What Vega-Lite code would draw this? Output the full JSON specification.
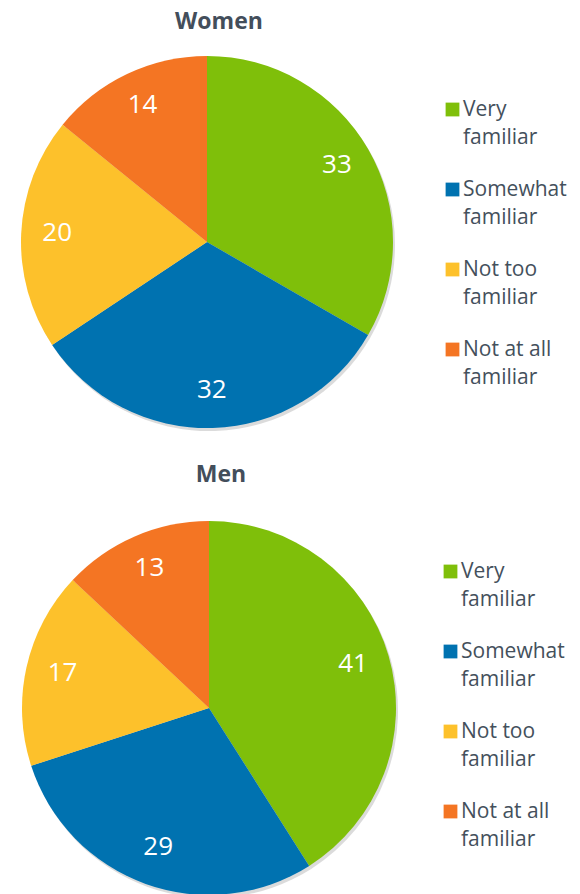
{
  "$schema": "https://vega.github.io/schema/vega-lite/v6.json",
  "background": "white",
  "padding": {"left": 21, "top": 11, "right": 0, "bottom": 0},
  "spacing": 33,
  "datasets": {
    "pies": [
      {"gender": "Women", "response": "Very familiar", "value": 33},
      {"gender": "Women", "response": "Somewhat familiar", "value": 32},
      {"gender": "Women", "response": "Not too familiar", "value": 20},
      {"gender": "Women", "response": "Not at all familiar", "value": 14},
      {"gender": "Men", "response": "Very familiar", "value": 41},
      {"gender": "Men", "response": "Somewhat familiar", "value": 29},
      {"gender": "Men", "response": "Not too familiar", "value": 17},
      {"gender": "Men", "response": "Not at all familiar", "value": 13}
    ]
  },
  "config": {
    "view": {"stroke": null},
    "title": {"font": "Open Sans", "fontSize": 23, "fontWeight": "bold", "color": "#434e5b", "anchor": "middle", "dx": 12},
    "legend": {
      "title": null,
      "symbolType": "square",
      "symbolSize": 190,
      "symbolStrokeWidth": 0,
      "symbolOpacity": 1,
      "labelFont": "Open Sans",
      "labelFontSize": 21,
      "labelColor": "#44505c",
      "labelOffset": 0,
      "labelLimit": 200,
      "rowPadding": 30
    }
  },
  "resolve": {"legend": {"color": "independent"}},
  "vconcat": [
    {
      "title": {"text": "Women", "offset": 22},
      "width": 372,
      "height": 372,
      "data": {"name": "pies"},
      "transform": [{"filter": "datum.gender === 'Women'"}],
      "encoding": {
        "theta": {"field": "value", "type": "quantitative", "stack": true},
        "order": {"field": "response", "sort": "descending"}
      },
      "layer": [
        {"mark": {"type": "arc", "color": "#b0b0b0", "opacity": 0.45, "xOffset": 2, "yOffset": 3}, "encoding": {"detail": {"field": "response"}}},
        {
          "mark": {"type": "arc"},
          "encoding": {
            "color": {
              "field": "response", "type": "nominal",
              "scale": {"domain": ["Very familiar", "Somewhat familiar", "Not too familiar", "Not at all familiar"], "range": ["#7fbf0a", "#0072b0", "#fdc12b", "#f47523"]},
              "legend": {
                "orient": "none", "legendX": 421, "legendY": 43,
                "labelExpr": "[substring(datum.label, 0, lastindexof(datum.label, ' ')), 'familiar']",
                "encode": {"labels": {"update": {"lineHeight": {"value": 28}}}}
              }
            }
          }
        },
        {
          "mark": {"type": "text", "radius": 150, "fill": "white", "font": "Open Sans", "fontSize": 26, "align": "center", "baseline": "middle", "dy": -2},
          "encoding": {"text": {"field": "value"}, "detail": {"field": "response"}}
        }
      ]
    },
    {
      "title": {"text": "Men", "offset": 34},
      "width": 376,
      "height": 374,
      "data": {"name": "pies"},
      "transform": [{"filter": "datum.gender === 'Men'"}],
      "encoding": {
        "theta": {"field": "value", "type": "quantitative", "stack": true},
        "order": {"field": "response", "sort": "descending"}
      },
      "layer": [
        {"mark": {"type": "arc", "color": "#b0b0b0", "opacity": 0.45, "xOffset": 2, "yOffset": 3}, "encoding": {"detail": {"field": "response"}}},
        {
          "mark": {"type": "arc"},
          "encoding": {
            "color": {
              "field": "response", "type": "nominal",
              "scale": {"domain": ["Very familiar", "Somewhat familiar", "Not too familiar", "Not at all familiar"], "range": ["#7fbf0a", "#0072b0", "#fdc12b", "#f47523"]},
              "legend": {
                "orient": "none", "legendX": 419, "legendY": 40,
                "labelExpr": "[substring(datum.label, 0, lastindexof(datum.label, ' ')), 'familiar']",
                "encode": {"labels": {"update": {"lineHeight": {"value": 28}}}}
              }
            }
          }
        },
        {
          "mark": {"type": "text", "radius": 150, "fill": "white", "font": "Open Sans", "fontSize": 26, "align": "center", "baseline": "middle", "dy": -2},
          "encoding": {"text": {"field": "value"}, "detail": {"field": "response"}}
        }
      ]
    }
  ]
}
